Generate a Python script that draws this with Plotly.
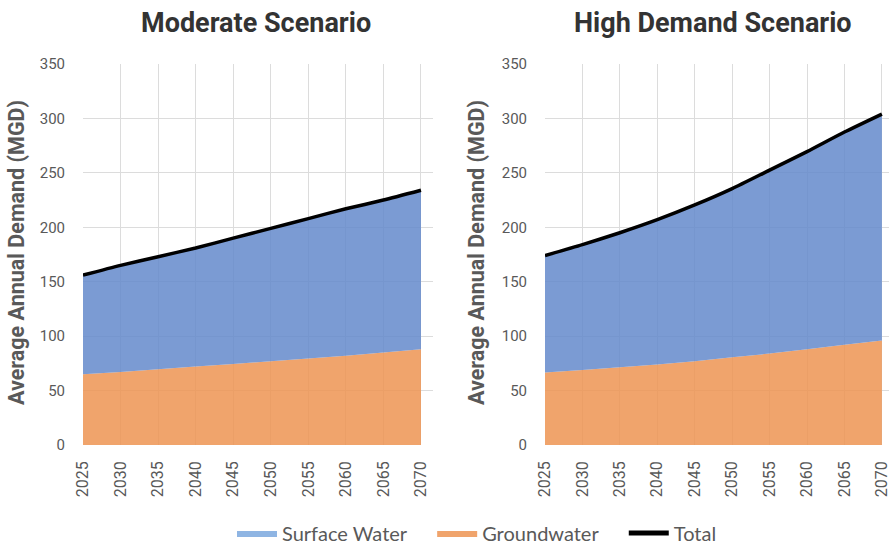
import plotly.graph_objects as go

years = [2025, 2030, 2035, 2040, 2045, 2050, 2055, 2060, 2065, 2070]
mod_total = [156, 165, 173, 181, 190, 199, 208, 217, 225, 234]
mod_ground = [65, 67, 69.5, 72, 74.5, 77, 79.5, 82, 85, 88]
high_total = [174, 184, 195, 207, 220.5, 235.5, 252.5, 269.5, 287.5, 304]
high_ground = [66.5, 69, 71.5, 74, 77, 80.5, 84, 88, 92, 96]
titles = ["Moderate Scenario", "High Demand Scenario"]
y_ticks = [0, 50, 100, 150, 200, 250, 300, 350]

BLUE = "rgba(100,137,203,0.85)"
BLUE_LEG = "#8fb5e3"
ORANGE = "rgba(237,148,82,0.85)"
ORANGE_LEG = "#f0a46c"
GRAY = "#595959"
FONT = "Roboto"
NB = "\u00a0"

fig = go.Figure()

scen = [(mod_total, mod_ground), (high_total, high_ground)]
for i, (tot, gw) in enumerate(scen):
    xa = "x" if i == 0 else "x2"
    ya = "y" if i == 0 else "y2"
    surf = [t - g for t, g in zip(tot, gw)]
    fig.add_trace(go.Scatter(x=years, y=gw, stackgroup=f"s{i}", mode="none",
                             fillcolor=ORANGE, showlegend=False, xaxis=xa, yaxis=ya,
                             name="Groundwater"))
    fig.add_trace(go.Scatter(x=years, y=surf, stackgroup=f"s{i}", mode="none",
                             fillcolor=BLUE, showlegend=False, xaxis=xa, yaxis=ya,
                             name="Surface Water"))
    fig.add_trace(go.Scatter(x=years, y=tot, mode="lines",
                             line=dict(color="black", width=3.5, shape="spline", smoothing=0.6),
                             showlegend=False, xaxis=xa, yaxis=ya, name="Total"))

# legend-only entries
fig.add_trace(go.Scatter(x=[None], y=[None], mode="lines", fill="toself",
                         fillcolor=BLUE_LEG, line=dict(color=BLUE_LEG, width=0),
                         name="Surface Water" + NB * 4))
fig.add_trace(go.Scatter(x=[None], y=[None], mode="lines", fill="toself",
                         fillcolor=ORANGE_LEG, line=dict(color=ORANGE_LEG, width=0),
                         name="Groundwater" + NB * 4))
fig.add_trace(go.Scatter(x=[None], y=[None], mode="lines",
                         line=dict(color="black", width=3), name="Total"))

grid = "#dcdcdc"
ax_common = dict(tickmode="array", tickvals=years, ticktext=[str(y) for y in years],
                 tickangle=-90, showgrid=True, gridcolor=grid, gridwidth=1,
                 zeroline=False, showline=False, ticks="", automargin=False,
                 ticklabelstandoff=12, ticklabeloverflow="allow",
                 tickfont=dict(family=FONT, size=16, color=GRAY))
ay_common = dict(range=[0, 350], tickvals=y_ticks, showgrid=True, gridcolor=grid,
                 gridwidth=1, zeroline=False, showline=False, ticks="", automargin=False,
                 tickfont=dict(family=FONT, size=15, color=GRAY), ticklabelstandoff=17)

fig.update_layout(
    width=889, height=546,
    margin=dict(l=0, r=0, t=0, b=0, autoexpand=False),
    paper_bgcolor="white", plot_bgcolor="white",
    xaxis=dict(domain=[83 / 889, 433 / 889], range=[2025, 2071.6], anchor="y", **ax_common),
    yaxis=dict(domain=[1 - 445 / 546, 1 - 64 / 546], anchor="x", **ay_common),
    xaxis2=dict(domain=[545 / 889, 1.0], range=[2025, 2070.95], anchor="y2", **ax_common),
    yaxis2=dict(domain=[1 - 445 / 546, 1 - 64 / 546], anchor="x2", **ay_common),
    legend=dict(orientation="h", x=477 / 889, xanchor="center", y=1 - 533 / 546, yanchor="middle",
                font=dict(family="Lato", size=20, color=GRAY), itemwidth=40,
                traceorder="normal", tracegroupgap=0, itemsizing="constant"),
    showlegend=True,
)

anns = []
for cx, t in [(256, titles[0]), (713, titles[1])]:
    anns.append(dict(text=f"<b>{t}</b>", x=cx / 889, y=1 - 23 / 546, xref="paper", yref="paper",
                     showarrow=False, xanchor="center", yanchor="middle",
                     font=dict(family=FONT, size=27, color="#333333")))
for cx in [16, 476]:
    anns.append(dict(text="<b>Average Annual Demand (MGD)</b>", x=cx / 889, y=1 - 253 / 546,
                     xref="paper", yref="paper", showarrow=False, textangle=-90,
                     xanchor="center", yanchor="middle",
                     font=dict(family=FONT, size=21.5, color=GRAY)))
fig.update_layout(annotations=anns)

fig.write_html("out.html", config={"displayModeBar": False},
               post_script="document.body.style.margin='0';document.body.style.overflow='hidden';")
